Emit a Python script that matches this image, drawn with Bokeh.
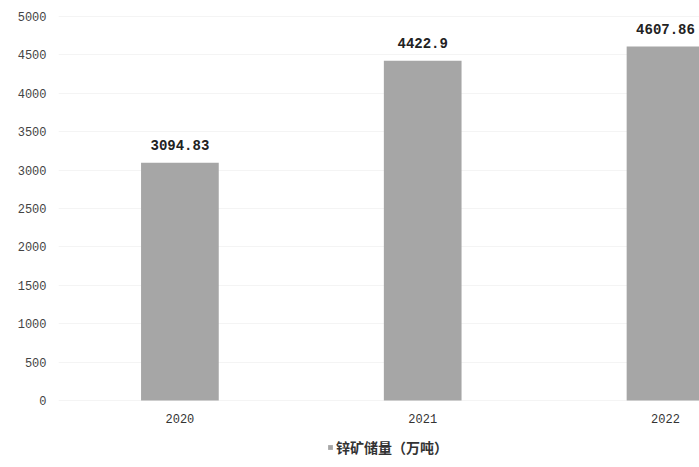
from bokeh.plotting import figure
from bokeh.models import Range1d, Legend, LegendItem, ColumnDataSource
from bokeh.core.properties import value
from bokeh.embed import file_html
from bokeh.resources import INLINE

# Zinc ore reserves by year (10k tonnes)
years = ["2020", "2021", "2022"]
reserves = [3094.83, 4422.9, 4607.86]
value_labels = ["3094.83", "4422.9", "4607.86"]
y_ticks = [0, 500, 1000, 1500, 2000, 2500, 3000, 3500, 4000, 4500, 5000]
series_name = "锌矿储量（万吨）"

xs = list(range(len(years)))
src = ColumnDataSource(dict(x=xs, top=reserves, label=value_labels,
                            year=years, base=[0] * len(years)))

# the frame runs to the bottom edge so the year labels and key fit inside it
p = figure(width=699, height=467, output_backend="svg", toolbar_location=None,
           x_range=Range1d(-0.5, 2.14), y_range=Range1d(-872, 5104),
           min_border_left=58, min_border_right=0, min_border_top=8,
           min_border_bottom=0)
p.outline_line_color = None
p.background_fill_color = "white"
p.border_fill_color = "white"

bars = p.vbar(x="x", top="top", width=0.32, bottom=0, source=src,
              fill_color="#a6a6a6", line_color=None)

# value labels above the bars
p.text(x="x", y="top", text="label", source=src,
       text_align="center", text_baseline="bottom", y_offset=-13,
       text_font=value("Liberation Mono"), text_font_size="14px",
       text_font_style="bold", text_color="#222222")

# year labels under the bars
p.text(x="x", y="base", text="year", source=src,
       text_align="center", text_baseline="top", y_offset=13,
       text_font=value("Liberation Mono"), text_font_size="12px",
       text_color="#333333")

p.xaxis.visible = False
p.yaxis.ticker = y_ticks
p.yaxis.axis_line_color = None
p.yaxis.major_tick_line_color = None
p.yaxis.minor_tick_line_color = None
p.yaxis.major_tick_out = 0
p.yaxis.major_label_standoff = 12
p.yaxis.major_label_text_font = "Liberation Mono"
p.yaxis.major_label_text_font_size = "12px"
p.yaxis.major_label_text_color = "#444444"

p.xgrid.grid_line_color = None
p.ygrid.ticker = y_ticks
p.ygrid.grid_line_color = "#f4f4f4"

legend = Legend(items=[LegendItem(label=series_name, renderers=[bars])],
                orientation="horizontal", location=(269, 10),
                label_text_font="Noto Sans CJK SC", label_text_font_size="14px",
                label_text_font_style="bold", label_text_color="#333333",
                glyph_width=6, glyph_height=6, label_standoff=3,
                border_line_color=None, background_fill_alpha=0,
                padding=2, margin=0, spacing=0)
p.add_layout(legend, "center")

open("out.html", "w").write(file_html(p, INLINE))
